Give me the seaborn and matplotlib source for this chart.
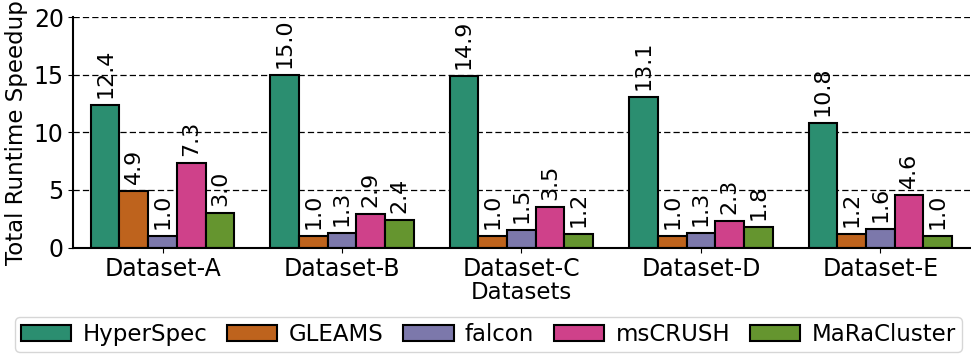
import pandas as pd
import matplotlib
matplotlib.use("Agg")
import matplotlib.pyplot as plt
import seaborn as sns

# Data
datasets = ['Dataset-A', 'Dataset-B', 'Dataset-C', 'Dataset-D', 'Dataset-E']
tools = ['HyperSpec', 'GLEAMS', 'falcon', 'msCRUSH', 'MaRaCluster']
hyperspec = [12.4, 15.0, 14.9, 13.1, 10.8]
gleams = [4.9, 1.0, 1.0, 1.0, 1.2]
falcon = [1.0, 1.3, 1.5, 1.3, 1.6]
mscrush = [7.3, 2.9, 3.5, 2.3, 4.6]
maracluster = [3.0, 2.4, 1.2, 1.8, 1.0]

values = [hyperspec, gleams, falcon, mscrush, maracluster]
rows = []
for tool, vals in zip(tools, values):
    for ds, v in zip(datasets, vals):
        rows.append({'Datasets': ds, 'Tool': tool, 'Speedup': v})
df = pd.DataFrame(rows)

sns.set_style('ticks')
plt.rcParams['font.family'] = ['DejaVu Sans']
plt.rcParams['text.color'] = 'black'
plt.rcParams['axes.labelcolor'] = 'black'
plt.rcParams['xtick.color'] = 'black'
plt.rcParams['ytick.color'] = 'black'

fig, ax = plt.subplots(figsize=(9.71, 3.64), dpi=100)
sns.barplot(data=df, x='Datasets', y='Speedup', hue='Tool', hue_order=tools,
            order=datasets, palette='Dark2', edgecolor='black', linewidth=1.5,
            width=0.8, ax=ax)

for c in ax.containers:
    ax.bar_label(c, fmt='%.1f', rotation=90, padding=5, fontsize=16, color='black')

ax.set_ylim(0, 20)
ax.set_xlim(-0.5, 4.5)
ax.set_yticks([0, 5, 10, 15, 20])
ax.yaxis.grid(True, linestyle=(0, (5, 2.5)), color='black', linewidth=0.9)
ax.set_axisbelow(True)
ax.set_xlabel('Datasets', fontsize=16.5, labelpad=0)
ax.set_ylabel('Total Runtime Speedup', fontsize=16.5, labelpad=4)
ax.tick_params(axis='both', labelsize=17, pad=3)
sns.despine(ax=ax)
for s in ['left', 'bottom']:
    ax.spines[s].set_linewidth(1.5)
    ax.spines[s].set_color('black')

ax.legend(loc='lower center', bbox_to_anchor=(0.503, 0.002),
          bbox_transform=fig.transFigure, ncol=5,
          fontsize=16.5, frameon=True, handlelength=2.2, columnspacing=0.85,
          handletextpad=0.5, borderpad=0.25)

plt.subplots_adjust(left=0.075, right=0.999, top=0.953, bottom=0.32)
plt.savefig('out.png', dpi=100)
